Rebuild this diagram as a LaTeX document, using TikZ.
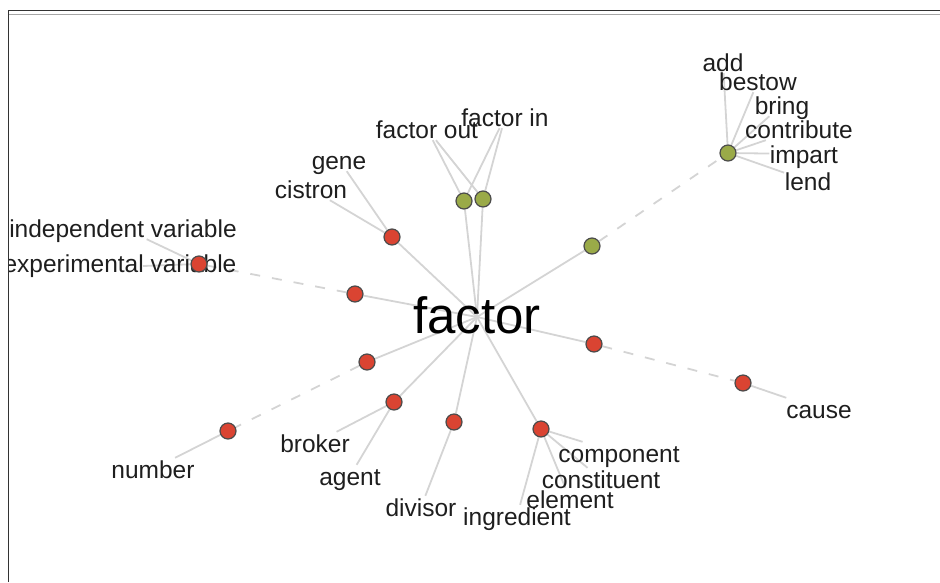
\documentclass[tikz,border=0pt]{standalone}
\usepackage{fontspec}
\setmainfont{Liberation Sans}
\pgfdeclarelayer{background}
\pgfsetlayers{background,main}

\definecolor{redfill}{RGB}{218,68,50}
\definecolor{greenfill}{RGB}{154,170,72}
\definecolor{ringgray}{RGB}{75,75,75}
\definecolor{edgegray}{RGB}{212,212,212}
\definecolor{wordgray}{RGB}{30,30,30}

\begin{document}
\begin{tikzpicture}[x=1pt,y=-1pt,
  reddot/.style={circle,draw=ringgray,fill=redfill,line width=1.2pt,minimum size=16pt,inner sep=0pt},
  greendot/.style={circle,draw=ringgray,fill=greenfill,line width=1.2pt,minimum size=16pt,inner sep=0pt},
  word/.style={text=wordgray,inner sep=0.5pt,text height=20pt,text depth=1pt,font=\fontsize{24.5}{26}\selectfont},
  link/.style={draw=edgegray,line width=1.8pt},
  dashlink/.style={draw=edgegray,line width=1.8pt,dash pattern=on 10pt off 12pt}]
\useasboundingbox (0,0) rectangle (940,582);

\node[word,font=\fontsize{51}{54}\selectfont,text=black,text height=38pt,text depth=6pt] (factor) at (477,317) {factor};

\node[word] (fout) at (427,129) {factor out};
\node[word] (fin) at (505,117) {factor in};
\node[word] (gene) at (339,160) {gene};
\node[word] (cistron) at (311,189) {cistron};
\node[word] (indep) at (123,228) {independent variable};
\node[word] (exper) at (120,263) {experimental variable};
\node[word] (number) at (153,469) {number};
\node[word] (broker) at (315,443) {broker};
\node[word] (agent) at (350,476) {agent};
\node[word] (divisor) at (421,507) {divisor};
\node[word] (ingredient) at (517,516) {ingredient};
\node[word] (element) at (570,499) {element};
\node[word] (constituent) at (601,479) {constituent};
\node[word] (component) at (619,453) {component};
\node[word] (cause) at (819,409) {cause};
\node[word] (add) at (723,62) {add};
\node[word] (bestow) at (758,81) {bestow};
\node[word] (bring) at (782,105) {bring};
\node[word] (contribute) at (799,129) {contribute};
\node[word] (impart) at (804,154) {impart};
\node[word] (lend) at (808,181) {lend};

\node[reddot] (R1) at (392,237) {};
\node[reddot] (R2) at (355,294) {};
\node[reddot] (R3) at (199,264) {};
\node[reddot] (R4) at (367,362) {};
\node[reddot] (R5) at (228,431) {};
\node[reddot] (R6) at (394,402) {};
\node[reddot] (R7) at (454,422) {};
\node[reddot] (R8) at (541,429) {};
\node[reddot] (R9) at (594,344) {};
\node[reddot] (R10) at (743,383) {};
\node[greendot] (G1) at (464,201) {};
\node[greendot] (G2) at (483,199) {};
\node[greendot] (G3) at (592,246) {};
\node[greendot] (G4) at (728,153) {};
\coordinate (X3) at (143,266);

\begin{pgfonlayer}{background}
% spokes of the hub
\path[link] (factor.center) edge (R1) edge (R2) edge (R4) edge (R6) edge (R7)
  edge (R8) edge (R9) edge (G1) edge (G2) edge (G3);
% dashed hops
\path[dashlink] (R2) edge (R3);
\path[dashlink] (R4) edge (R5);
\path[dashlink] (R9) edge (R10);
\path[dashlink] (G3) edge (G4);
% leaves
\path[link] (R1) edge (gene) edge (cistron);
\path[link] (R3) edge (indep) edge (X3);
\path[link] (R5) edge (number);
\path[link] (R6) edge (broker) edge (agent);
\path[link] (R7) edge (divisor);
\path[link] (R8) edge (component) edge (constituent) edge (element) edge (ingredient);
\path[link] (R10) edge (cause);
\path[link] (G1) edge (fout) edge (fin);
\path[link] (G2) edge (fout) edge (fin);
\path[link] (G4) edge (add) edge (bestow) edge (bring) edge (contribute) edge (impart) edge (lend);
\end{pgfonlayer}

% frame
\fill[white] (0,0) rectangle (8.3,582);
\draw[gray!70,line width=1.4pt] (8.3,14.3) -- (940,14.3);
\draw[black!80,line width=1.5pt] (8.3,582) -- (8.3,10.5) -- (940,10.5);
\end{tikzpicture}
\end{document}
